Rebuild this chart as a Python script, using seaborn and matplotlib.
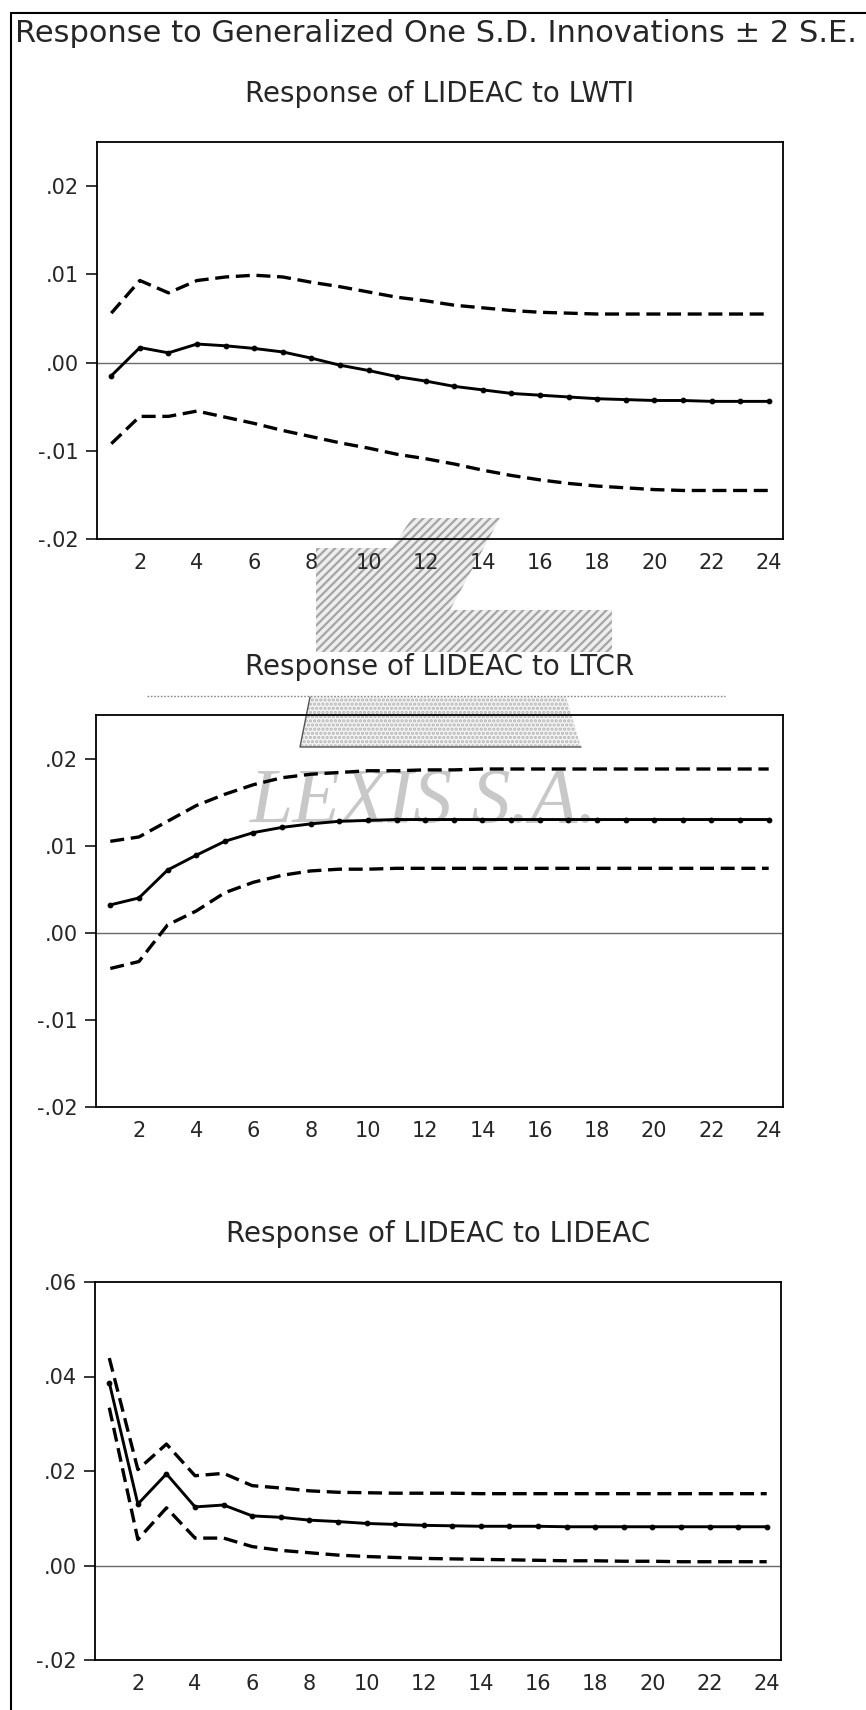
import numpy as np
import pandas as pd
import matplotlib
matplotlib.use("Agg")
import matplotlib.pyplot as plt
from matplotlib.lines import Line2D
from matplotlib.patches import Polygon
import seaborn as sns

# ---------------- data ----------------
periods = list(range(1, 25))

lwti_resp = [-0.0015, 0.0017, 0.0011, 0.0021, 0.0019, 0.0016, 0.0012, 0.0005,
             -0.0003, -0.0009, -0.0016, -0.0021, -0.0027, -0.0031, -0.0035, -0.0037,
             -0.0039, -0.0041, -0.0042, -0.0043, -0.0043, -0.0044, -0.0044, -0.0044]
lwti_upper = [0.0056, 0.0093, 0.0079, 0.0093, 0.0097, 0.0099, 0.0097, 0.0091,
              0.0086, 0.0080, 0.0074, 0.0070, 0.0065, 0.0062, 0.0059, 0.0057,
              0.0056, 0.0055, 0.0055, 0.0055, 0.0055, 0.0055, 0.0055, 0.0055]
lwti_lower = [-0.0092, -0.0061, -0.0061, -0.0055, -0.0062, -0.0069, -0.0077, -0.0084,
              -0.0091, -0.0097, -0.0104, -0.0109, -0.0115, -0.0122, -0.0128, -0.0133,
              -0.0137, -0.0140, -0.0142, -0.0144, -0.0145, -0.0145, -0.0145, -0.0145]

ltcr_resp = [0.0032, 0.0040, 0.0072, 0.0089, 0.0105, 0.0115, 0.0121, 0.0125,
             0.0128, 0.0129, 0.0130, 0.0130, 0.0130, 0.0130, 0.0130, 0.0130,
             0.0130, 0.0130, 0.0130, 0.0130, 0.0130, 0.0130, 0.0130, 0.0130]
ltcr_upper = [0.0105, 0.0110, 0.0128, 0.0146, 0.0159, 0.0170, 0.0178, 0.0182,
              0.0184, 0.0186, 0.0186, 0.0187, 0.0187, 0.0188, 0.0188, 0.0188,
              0.0188, 0.0188, 0.0188, 0.0188, 0.0188, 0.0188, 0.0188, 0.0188]
ltcr_lower = [-0.0041, -0.0033, 0.0009, 0.0025, 0.0046, 0.0058, 0.0066, 0.0071,
              0.0073, 0.0073, 0.0074, 0.0074, 0.0074, 0.0074, 0.0074, 0.0074,
              0.0074, 0.0074, 0.0074, 0.0074, 0.0074, 0.0074, 0.0074, 0.0074]

lideac_resp = [0.0387, 0.0130, 0.0194, 0.0124, 0.0128, 0.0105, 0.0102, 0.0096,
               0.0093, 0.0089, 0.0087, 0.0085, 0.0084, 0.0083, 0.0083, 0.0083,
               0.0082, 0.0082, 0.0082, 0.0082, 0.0082, 0.0082, 0.0082, 0.0082]
lideac_upper = [0.0439, 0.0203, 0.0257, 0.0190, 0.0195, 0.0169, 0.0164, 0.0158,
                0.0155, 0.0154, 0.0153, 0.0153, 0.0153, 0.0152, 0.0152, 0.0152,
                0.0152, 0.0152, 0.0152, 0.0152, 0.0152, 0.0152, 0.0152, 0.0152]
lideac_lower = [0.0334, 0.0055, 0.0122, 0.0058, 0.0058, 0.0040, 0.0032, 0.0027,
                0.0022, 0.0019, 0.0017, 0.0015, 0.0014, 0.0013, 0.0012, 0.0011,
                0.0010, 0.0010, 0.0009, 0.0009, 0.0008, 0.0008, 0.0008, 0.0008]

main_title = "Response to Generalized One S.D. Innovations \u00b1 2 S.E."
panel_titles = ["Response of LIDEAC to LWTI", "Response of LIDEAC to LTCR",
                "Response of LIDEAC to LIDEAC"]
panel_ylims = [(-0.02, 0.025), (-0.02, 0.025), (-0.02, 0.06)]
panel_yticks = [[-0.02, -0.01, 0.00, 0.01, 0.02],
                [-0.02, -0.01, 0.00, 0.01, 0.02],
                [-0.02, 0.00, 0.02, 0.04, 0.06]]
xtick_labels = list(range(2, 25, 2))
watermark = "LEXIS S.A."

# ---------------- figure ----------------
sns.set_style("white")
plt.rcParams["font.family"] = ["DejaVu Sans"]
plt.rcParams["hatch.linewidth"] = 1.6

W, H = 866, 1710
fig = plt.figure(figsize=(W / 100, H / 100), dpi=100)
fig.patch.set_facecolor("white")


def add_ax(l, r, t, b):
    return fig.add_axes([l / W, 1 - b / H, (r - l) / W, (b - t) / H])


def fpts(pts):
    return [(x / W, 1 - y / H) for x, y in pts]


boxes = [(97, 783, 142, 539), (96, 783, 715, 1107), (95, 781, 1282, 1660)]
series = [(lwti_resp, lwti_upper, lwti_lower),
          (ltcr_resp, ltcr_upper, ltcr_lower),
          (lideac_resp, lideac_upper, lideac_lower)]


def fmt(v):
    s = f"{v:.2f}"
    return s.replace("0.", ".", 1)


# ---- watermark logo (background decoration, drawn behind the axes) ----
logo_shape = [(316, 652), (316, 548), (392, 548), (412, 518), (500, 518),
              (450, 610), (612, 610), (612, 652)]
logo_base = [(310, 697), (566, 697), (581, 747), (300, 747)]
fig.add_artist(Polygon(fpts(logo_shape), closed=True, transform=fig.transFigure,
                       facecolor="#eeeeee", edgecolor="#a5a5a5", hatch="////",
                       lw=0, zorder=-2))
fig.add_artist(Polygon(fpts(logo_base), closed=True, transform=fig.transFigure,
                       facecolor="#f4f4f4", edgecolor="#b5b5b5", hatch="....",
                       lw=0, zorder=-2))
fig.add_artist(Line2D([310 / W, 300 / W, 581 / W], [1 - 697 / H, 1 - 747 / H, 1 - 747 / H],
                      transform=fig.transFigure, color="#555555", lw=1.0, zorder=-1))
fig.add_artist(Line2D([147 / W, 725 / W], [1 - 696 / H, 1 - 696 / H],
                      transform=fig.transFigure, color="#888888", lw=1.0,
                      linestyle=(0, (1.2, 1.2)), zorder=-1))

for box, (resp, up, lo), title, ylim, yt in zip(boxes, series, panel_titles,
                                                 panel_ylims, panel_yticks):
    ax = add_ax(*box)
    ax.set_facecolor("none")
    df = pd.DataFrame({"period": periods, "resp": resp, "upper": up, "lower": lo})
    ax.axhline(0, color="#6a6a6a", lw=1.0, zorder=1)
    for col in ["upper", "lower"]:
        sns.lineplot(data=df, x="period", y=col, ax=ax, color="black",
                     lw=2.4, linestyle=(0, (4.2, 2.0)), errorbar=None, zorder=3)
    sns.lineplot(data=df, x="period", y="resp", ax=ax, color="black", lw=2.1,
                 marker="o", markersize=3.4, markeredgecolor="black",
                 errorbar=None, zorder=4)
    ax.set_xlim(0.5, 24.5)
    ax.set_ylim(*ylim)
    ax.set_yticks(yt)
    ax.set_yticklabels([fmt(v) for v in yt])
    ax.set_xticks(xtick_labels)
    ax.set_xticklabels([str(v) for v in xtick_labels])
    ax.set_xticks(np.arange(0.5, 25, 1), minor=True)
    ax.tick_params(axis="x", which="major", length=0, pad=10, labelsize=15)
    ax.tick_params(axis="x", which="minor", length=7, width=1.1, direction="out",
                   color="black")
    ax.tick_params(axis="y", which="major", length=8, width=1.1, pad=5,
                   labelsize=15, direction="out", color="black", left=True)
    ax.set_xlabel("")
    ax.set_ylabel("")
    for s in ax.spines.values():
        s.set_linewidth(1.3)
        s.set_color("black")
    ax.set_title(title, fontsize=20, pad=29)

# main title
fig.text(15 / W, 1 - 42 / H, main_title, fontsize=22, ha="left", va="baseline")

# frame lines of the original graph
fig.add_artist(Line2D([11 / W, 11 / W], [1 - 13 / H, 0], transform=fig.transFigure,
                      color="black", lw=1.5))
fig.add_artist(Line2D([11 / W, 1], [1 - 13 / H, 1 - 13 / H], transform=fig.transFigure,
                      color="black", lw=1.5))

# watermark text
fig.text(250 / W, 1 - 822 / H, watermark, fontsize=56, color="#c8c8c8",
         style="italic", family="Liberation Serif", ha="left", va="baseline",
         zorder=-1)

fig.savefig("out.png", dpi=100, facecolor="white")
